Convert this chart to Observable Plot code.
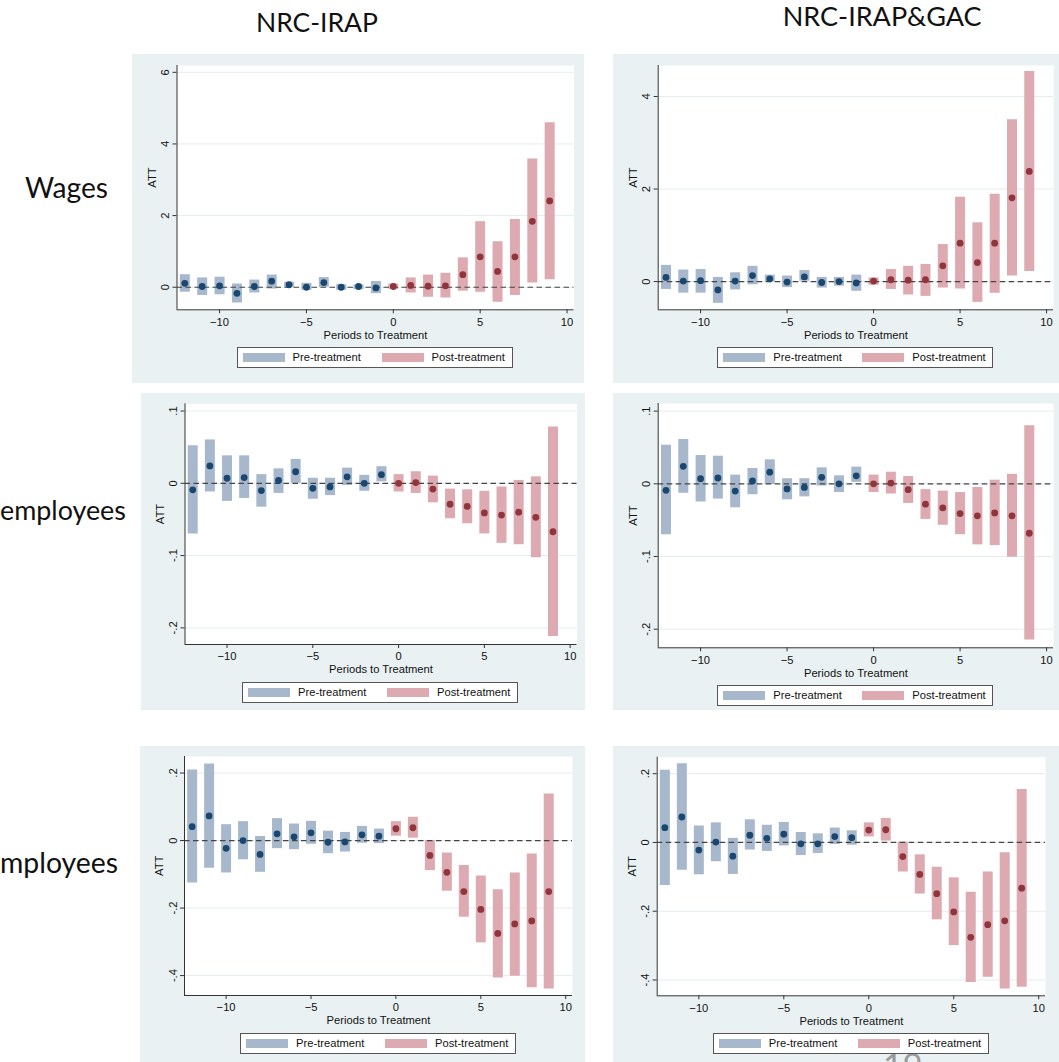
<!DOCTYPE html>
<html>
<head>
<meta charset="utf-8">
<script src="https://cdn.jsdelivr.net/npm/d3@7"></script>
<script src="https://cdn.jsdelivr.net/npm/@observablehq/plot@0.6"></script>
<style>
  body { margin: 0; background: #fff; }
  #root { position: relative; width: 1059px; height: 1062px; overflow: hidden; background: #fff; }
  .panel { position: absolute; background: #eaf1f3; }
  .panel svg { position: absolute; left: 0; top: 0; overflow: visible; }
  .legend { position: absolute; width: 276px; height: 21px; background: #fff; border: 1px solid #555;
            box-sizing: border-box; font-family: 'Liberation Sans', Arial, sans-serif; font-size: 11.2px; color: #111; }
  .legend .sw { position: absolute; top: 5px; width: 42px; height: 9px; }
  .legend .tx { position: absolute; top: 3px; line-height: 13px; white-space: nowrap; }
  #overlay { position: absolute; left: 0; top: 0; pointer-events: none; }
  #pageno { position: absolute; left: 883px; top: 1054px; width: 40px; height: 8px; overflow: hidden; }
  #pageno span { position: absolute; left: 0; top: -6px; font-family: Lato, 'Open Sans', sans-serif;
                 font-size: 34px; line-height: 34px; color: #9a9a9a; }
</style>
</head>
<body>
<div id="root"></div>
<script>
// ---------- data ----------
const periods = [-12,-11,-10,-9,-8,-7,-6,-5,-4,-3,-2,-1,0,1,2,3,4,5,6,7,8,9];
const xTicks = [-10,-5,0,5,10];
const phaseNames = ["Pre-treatment","Post-treatment"];
const columnTitles = ["NRC-IRAP","NRC-IRAP&GAC"];
const rowLabels = ["Wages","employees","mployees"];
const pageNumber = "19";

// Wages, NRC-IRAP
const wagesIrapEst = [0.11,0.02,0.04,-0.17,0.02,0.17,0.07,0.00,0.13,0.00,0.02,-0.02,0.02,0.05,0.03,0.04,0.35,0.85,0.44,0.85,1.84,2.41];
const wagesIrapLo  = [-0.14,-0.23,-0.21,-0.44,-0.16,-0.05,0.00,-0.09,0.00,-0.09,-0.07,-0.18,-0.06,-0.16,-0.28,-0.30,-0.11,-0.14,-0.42,-0.23,0.12,0.21];
const wagesIrapHi  = [0.35,0.26,0.28,0.09,0.20,0.34,0.14,0.11,0.27,0.07,0.07,0.16,0.09,0.26,0.34,0.39,0.82,1.83,1.27,1.89,3.58,4.59];
// Wages, NRC-IRAP&GAC
const wagesGacEst = [0.09,0.01,0.02,-0.18,0.01,0.13,0.06,-0.01,0.10,-0.02,0.00,-0.03,0.01,0.04,0.03,0.04,0.34,0.83,0.41,0.83,1.81,2.38];
const wagesGacLo  = [-0.17,-0.25,-0.25,-0.47,-0.18,-0.07,-0.01,-0.13,0.01,-0.14,-0.10,-0.21,-0.08,-0.17,-0.29,-0.32,-0.14,-0.16,-0.45,-0.25,0.12,0.22];
const wagesGacHi  = [0.35,0.25,0.26,0.09,0.19,0.33,0.14,0.12,0.24,0.09,0.09,0.14,0.08,0.26,0.33,0.37,0.80,1.82,1.27,1.89,3.50,4.54];
// employees (row 2), NRC-IRAP
const emp2IrapEst = [-0.009,0.024,0.007,0.008,-0.010,0.004,0.016,-0.007,-0.005,0.009,0.000,0.012,0.000,0.001,-0.008,-0.029,-0.032,-0.041,-0.044,-0.040,-0.047,-0.067];
const emp2IrapLo  = [-0.070,-0.012,-0.025,-0.021,-0.033,-0.014,0.000,-0.022,-0.017,-0.003,-0.011,0.002,-0.012,-0.014,-0.027,-0.049,-0.056,-0.070,-0.083,-0.085,-0.103,-0.212];
const emp2IrapHi  = [0.052,0.060,0.038,0.038,0.012,0.020,0.033,0.007,0.007,0.021,0.011,0.023,0.012,0.016,0.010,-0.008,-0.009,-0.011,-0.005,0.004,0.009,0.078];
// employees (row 2), NRC-IRAP&GAC
const emp2GacEst = [-0.009,0.024,0.007,0.008,-0.010,0.004,0.016,-0.007,-0.005,0.009,0.000,0.011,0.000,0.001,-0.008,-0.028,-0.033,-0.041,-0.044,-0.040,-0.044,-0.068];
const emp2GacLo  = [-0.070,-0.013,-0.025,-0.021,-0.033,-0.015,-0.001,-0.022,-0.018,-0.003,-0.012,0.002,-0.012,-0.014,-0.027,-0.049,-0.057,-0.070,-0.084,-0.085,-0.101,-0.215];
const emp2GacHi  = [0.053,0.061,0.039,0.038,0.012,0.021,0.033,0.007,0.007,0.022,0.011,0.023,0.012,0.016,0.010,-0.008,-0.010,-0.012,-0.005,0.005,0.013,0.080];
// employees (row 3), NRC-IRAP
const emp3IrapEst = [0.041,0.073,-0.023,0.000,-0.041,0.020,0.011,0.023,-0.005,-0.004,0.017,0.013,0.035,0.038,-0.044,-0.094,-0.151,-0.204,-0.275,-0.247,-0.238,-0.151];
const emp3IrapLo  = [-0.126,-0.082,-0.096,-0.057,-0.094,-0.024,-0.027,-0.011,-0.039,-0.034,-0.008,-0.009,0.013,0.007,-0.089,-0.150,-0.227,-0.303,-0.407,-0.402,-0.436,-0.440];
const emp3IrapHi  = [0.209,0.227,0.047,0.056,0.012,0.065,0.049,0.057,0.028,0.024,0.042,0.034,0.056,0.069,0.000,-0.037,-0.074,-0.105,-0.146,-0.096,-0.040,0.138];
// employees (row 3), NRC-IRAP&GAC
const emp3GacEst = [0.043,0.074,-0.022,0.001,-0.040,0.021,0.012,0.024,-0.004,-0.004,0.017,0.014,0.036,0.037,-0.041,-0.093,-0.149,-0.202,-0.276,-0.239,-0.228,-0.133];
const emp3GacLo  = [-0.125,-0.081,-0.094,-0.056,-0.093,-0.022,-0.026,-0.010,-0.038,-0.032,-0.006,-0.008,0.016,0.004,-0.086,-0.150,-0.225,-0.300,-0.407,-0.392,-0.426,-0.421];
const emp3GacHi  = [0.210,0.229,0.048,0.057,0.012,0.066,0.050,0.058,0.029,0.025,0.042,0.034,0.057,0.070,0.001,-0.036,-0.072,-0.103,-0.145,-0.086,-0.030,0.154];

const wagesTicks = [0,2,4,6];
const wagesGacTicks = [0,2,4];
const emp2Ticks = [-0.2,-0.1,0,0.1];
const emp3Ticks = [-0.4,-0.2,0,0.2];

// ---------- styling / layout ----------
const barColor = {"Pre-treatment": "#a7b8cd", "Post-treatment": "#dcaab0"};
const dotColor = {"Pre-treatment": "#1a476f", "Post-treatment": "#90353b"};
const xDomain = [-12.45, 10.4];

const panels = [
  {est: wagesIrapEst, lo: wagesIrapLo, hi: wagesIrapHi, ticks: wagesTicks, yDomain: [-0.63, 6.19],
   outer: [131.5, 54, 584, 383], plot: [176, 65, 573, 309.3]},
  {est: wagesGacEst, lo: wagesGacLo, hi: wagesGacHi, ticks: wagesGacTicks, yDomain: [-0.61, 4.67],
   outer: [613, 54, 1059, 383], plot: [657.7, 65, 1053, 309.3]},
  {est: emp2IrapEst, lo: emp2IrapLo, hi: emp2IrapHi, ticks: emp2Ticks, yDomain: [-0.223, 0.110],
   outer: [140.5, 393, 585, 710], plot: [184, 403.3, 576, 644]},
  {est: emp2GacEst, lo: emp2GacLo, hi: emp2GacHi, ticks: emp2Ticks, yDomain: [-0.2256, 0.1105],
   outer: [613, 393, 1059, 710], plot: [657.7, 403, 1053, 647.3]},
  {est: emp3IrapEst, lo: emp3IrapLo, hi: emp3IrapHi, ticks: emp3Ticks, yDomain: [-0.459, 0.249],
   outer: [140, 746, 585, 1062], plot: [184, 756, 572, 995]},
  {est: emp3GacEst, lo: emp3GacLo, hi: emp3GacHi, ticks: emp3Ticks, yDomain: [-0.446, 0.248],
   outer: [613, 746, 1059, 1062], plot: [656.7, 756.7, 1045, 995.3]}
];

const fmt = d => d === 0 ? "0" : String(d).replace("0.", ".");
const root = document.getElementById("root");

panels.forEach(p => {
  const [ox0, oy0, ox1, oy1] = p.outer;
  const [px0, py0, px1, py1] = p.plot;
  const rows = periods.map((t, i) => ({t, est: p.est[i], lo: p.lo[i], hi: p.hi[i], phase: t < 0 ? phaseNames[0] : phaseNames[1]}));
  const pre = rows.filter(d => d.phase === phaseNames[0]);
  const post = rows.filter(d => d.phase === phaseNames[1]);

  const div = document.createElement("div");
  div.className = "panel";
  Object.assign(div.style, {left: ox0 + "px", top: oy0 + "px", width: (ox1 - ox0) + "px", height: (oy1 - oy0) + "px"});

  const chart = Plot.plot({
    width: ox1 - ox0,
    height: oy1 - oy0,
    marginLeft: px0 - ox0,
    marginTop: py0 - oy0,
    marginRight: ox1 - px1,
    marginBottom: oy1 - py1,
    style: {background: "transparent", fontFamily: "'Liberation Sans', Arial, sans-serif", fontSize: "11.2px", color: "#222", overflow: "visible"},
    x: {domain: xDomain},
    y: {domain: p.yDomain},
    marks: [
      Plot.frame({fill: "#fff", stroke: null}),
      Plot.gridY(p.ticks, {stroke: "#e4ecef", strokeOpacity: 1}),
      Plot.ruleX(pre, {x: "t", y1: "lo", y2: "hi", stroke: barColor[phaseNames[0]], strokeWidth: 10}),
      Plot.ruleX(post, {x: "t", y1: "lo", y2: "hi", stroke: barColor[phaseNames[1]], strokeWidth: 10}),
      Plot.ruleY([0], {stroke: "#444", strokeWidth: 1.2, strokeDasharray: "5.5,3.5"}),
      Plot.dot(pre, {x: "t", y: "est", r: 3.4, fill: dotColor[phaseNames[0]], stroke: null}),
      Plot.dot(post, {x: "t", y: "est", r: 3.4, fill: dotColor[phaseNames[1]], stroke: null}),
      Plot.ruleY([p.yDomain[0]], {stroke: "#333", strokeWidth: 1}),
      Plot.ruleX([xDomain[0]], {stroke: "#333", strokeWidth: 1}),
      Plot.axisX({ticks: xTicks, tickSize: 4, tickPadding: 4, label: null, stroke: "#333", fill: "#111"}),
      Plot.axisY({ticks: p.ticks, tickSize: 4, tickPadding: 4, tickRotate: -90, textAnchor: "middle", lineAnchor: "bottom",
                  tickFormat: fmt, label: null, stroke: "#333", fill: "#111"}),
      Plot.text(["ATT"], {frameAnchor: "left", rotate: -90, dx: -25, fontSize: 11.2, fill: "#111"}),
      Plot.text(["Periods to Treatment"], {frameAnchor: "bottom", dy: 21, lineAnchor: "top", fontSize: 11.2, fill: "#111"})
    ]
  });
  div.appendChild(chart);

  // legend (HTML, below the plot area)
  const lg = document.createElement("div");
  lg.className = "legend";
  const cx = (px0 + px1) / 2 - ox0;
  lg.style.left = (cx - 138) + "px";
  lg.style.top = (py1 - oy0 + 38) + "px";
  const items = [[5, 55], [144, 194]];
  phaseNames.forEach((name, i) => {
    const sw = document.createElement("div");
    sw.className = "sw";
    sw.style.left = items[i][0] + "px";
    sw.style.background = barColor[name];
    const tx = document.createElement("div");
    tx.className = "tx";
    tx.style.left = items[i][1] + "px";
    tx.textContent = name;
    lg.appendChild(sw);
    lg.appendChild(tx);
  });
  div.appendChild(lg);
  root.appendChild(div);
});

// ---------- outer text (titles, row labels) ----------
const labelFont = "Lato, 'Open Sans', sans-serif";
const ctx = document.createElement("canvas").getContext("2d");
function fitSize(text, targetWidth) {
  ctx.font = "100px " + labelFont;
  return 100 * targetWidth / ctx.measureText(text).width;
}
const textSpecs = [
  {text: columnTitles[0], x0: 256, x1: 378, base: 31.5},
  {text: columnTitles[1], x0: 782.7, x1: 981.7, base: 25.5},
  {text: rowLabels[0], x0: 25, x1: 108, base: 198},
  {text: rowLabels[1], x0: 0, x1: 126, base: 520},
  {text: rowLabels[2], x0: 0, x1: 118, base: 873}
];
const svg = d3.select(root).append("svg").attr("id", "overlay").attr("width", 1059).attr("height", 1062);
textSpecs.forEach(s => {
  svg.append("text")
    .attr("x", s.x0).attr("y", s.base)
    .attr("font-family", labelFont)
    .attr("font-size", fitSize(s.text, s.x1 - s.x0).toFixed(2))
    .attr("fill", "#111")
    .text(s.text);
});
// page number of the source slide, only its top edge shows at the bottom of the picture
const pn = document.createElement("div");
pn.id = "pageno";
const pnSpan = document.createElement("span");
pnSpan.textContent = pageNumber;
pn.appendChild(pnSpan);
root.appendChild(pn);
</script>
</body>
</html>
